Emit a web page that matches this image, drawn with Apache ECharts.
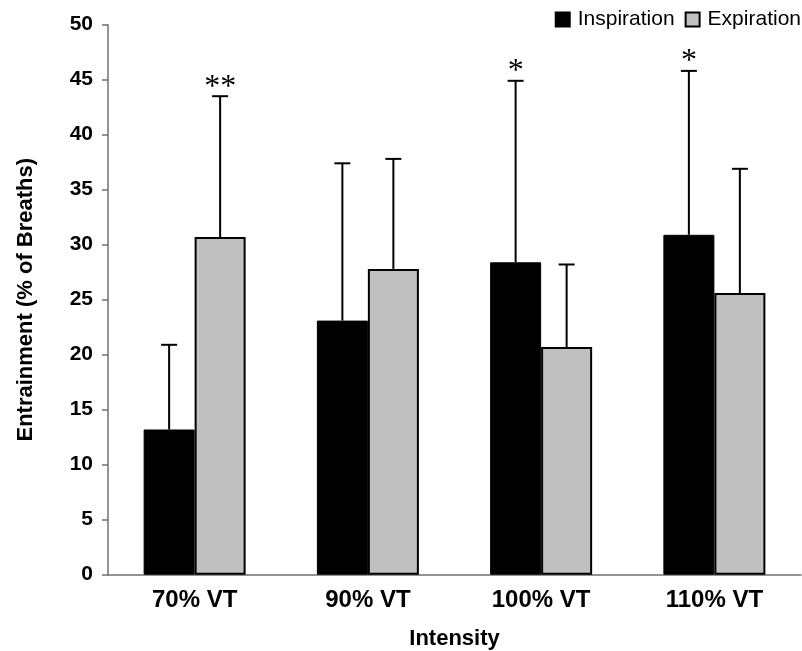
<!DOCTYPE html>
<html>
<head>
<meta charset="utf-8">
<script src="https://cdn.jsdelivr.net/npm/echarts@6/dist/echarts.min.js"></script>
<style>
html,body{margin:0;padding:0;background:#fff;}
#chart{width:802px;height:651px;}
</style>
</head>
<body>
<div id="chart"></div>
<script>
var categories = ['70% VT', '90% VT', '100% VT', '110% VT'];
var inspMean  = [13.2, 23.1, 28.4, 30.9];
var inspUpper = [20.9, 37.4, 44.9, 45.8];
var expMean   = [30.7, 27.8, 20.7, 25.6];
var expUpper  = [43.5, 37.8, 28.2, 36.9];
var inspSig   = ['', '', '*', '*'];
var expSig    = ['**', '', '', ''];
var yTicks    = [0, 5, 10, 15, 20, 25, 30, 35, 40, 45, 50];

var BAR_W = 51;

function errData(means, uppers) {
  return categories.map(function (c, i) { return [i, means[i], uppers[i]]; });
}
function makeErr(offset, sig) {
  return function (params, api) {
    var i = api.value(0);
    var base = api.coord([i, api.value(1)]);
    var top = api.coord([i, api.value(2)]);
    var x = base[0] + offset;
    var children = [
      {type: 'line', shape: {x1: x, y1: base[1], x2: x, y2: top[1]},
       style: {stroke: '#000', lineWidth: 2}},
      {type: 'line', shape: {x1: x - 8, y1: top[1], x2: x + 8, y2: top[1]},
       style: {stroke: '#000', lineWidth: 2}}
    ];
    var s = sig[params.dataIndex];
    if (s) {
      children.push({type: 'text', x: x, y: top[1] - 9,
        style: {text: s, fill: '#000', font: 'normal 32px "Liberation Serif", serif',
                align: 'center', verticalAlign: 'middle'}});
    }
    return {type: 'group', children: children};
  };
}

var chart = echarts.init(document.getElementById('chart'));
chart.setOption({
  animation: false,
  backgroundColor: '#fff',
  textStyle: {fontFamily: '"Liberation Sans", Arial, sans-serif'},
  grid: {left: 108, right: 1, top: 24.7, bottom: 76.3, containLabel: false, outerBoundsMode: 'none'},
  legend: {
    right: 1, top: 9, padding: 0, itemWidth: 14, itemHeight: 14, itemGap: 10,
    icon: 'rect',
    textStyle: {fontSize: 21, color: '#000', padding: [0, 0, 0, 3]},
    data: ['Inspiration', 'Expiration']
  },
  xAxis: {
    type: 'category', data: categories,
    name: 'Intensity', nameLocation: 'middle', nameGap: 53,
    nameTextStyle: {fontSize: 22, fontWeight: 'bold', color: '#000'},
    axisLine: {lineStyle: {color: '#707070', width: 1.5}},
    axisTick: {show: false},
    axisLabel: {fontSize: 24, fontWeight: 'bold', color: '#000', margin: 14}
  },
  yAxis: {
    type: 'value', min: 0, max: 50, interval: 5,
    name: 'Entrainment (% of Breaths)', nameLocation: 'middle', nameGap: 71,
    nameTextStyle: {fontSize: 22, fontWeight: 'bold', color: '#000'},
    axisLine: {show: true, lineStyle: {color: '#707070', width: 1.5}},
    axisTick: {show: true, inside: false, length: 6, lineStyle: {color: '#707070', width: 1.5}},
    splitLine: {show: false},
    axisLabel: {fontSize: 21, fontWeight: 'bold', color: '#000', margin: 15,
      formatter: function (v) { return yTicks.indexOf(v) >= 0 ? String(v) : ''; }}
  },
  series: [
    {name: 'Inspiration', type: 'bar', data: inspMean, barWidth: BAR_W, barGap: '0%',
     itemStyle: {color: '#000', borderColor: '#000', borderWidth: 1}},
    {name: 'Expiration', type: 'bar', data: expMean, barWidth: BAR_W, barGap: '0%',
     itemStyle: {color: '#c0c0c0', borderColor: '#000', borderWidth: 2}},
    {name: 'errI', type: 'custom', renderItem: makeErr(-BAR_W / 2, inspSig),
     data: errData(inspMean, inspUpper), encode: {x: 0, y: [1, 2]}, z: 5, silent: true},
    {name: 'errE', type: 'custom', renderItem: makeErr(BAR_W / 2, expSig),
     data: errData(expMean, expUpper), encode: {x: 0, y: [1, 2]}, z: 5, silent: true}
  ]
});
</script>
</body>
</html>
